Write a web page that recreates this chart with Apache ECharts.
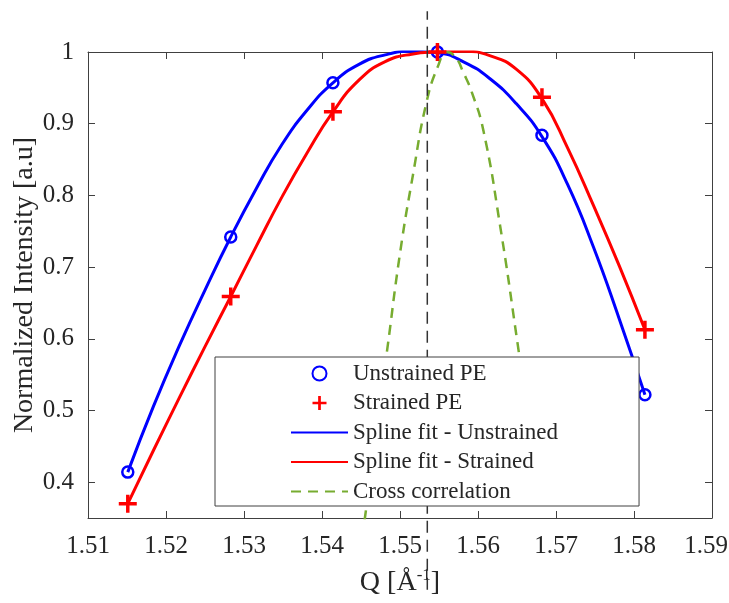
<!DOCTYPE html>
<html><head><meta charset="utf-8">
<script src="https://cdn.jsdelivr.net/npm/echarts@6/dist/echarts.min.js"></script>
<style>html,body{margin:0;padding:0;background:#fff}#c{width:729px;height:603px}</style>
</head><body><div id="c"></div>
<script>
// Measured data points
const qPoints = [1.5151, 1.5283, 1.5414, 1.5548, 1.5682, 1.5814];
const unstrainedPE = [0.414, 0.742, 0.957, 1.000, 0.884, 0.522];
const strainedPE = [0.370, 0.659, 0.9165, 1.000, 0.937, 0.6125];
// Spline fit curves
const splineQ = [1.5151, 1.5184, 1.5217, 1.5250, 1.5283, 1.5316, 1.5348, 1.5381, 1.5414, 1.5448, 1.5481, 1.5515, 1.5548, 1.5582, 1.5615, 1.5649, 1.5682, 1.5715, 1.5748, 1.5781, 1.5814];
const splineUI = [0.414, 0.506, 0.590, 0.668, 0.742, 0.810, 0.870, 0.919, 0.957, 0.983, 0.996, 1.001, 0.999, 0.986, 0.963, 0.928, 0.882, 0.815, 0.728, 0.628, 0.522];
const splineSI = [0.370, 0.4445, 0.5175, 0.589, 0.659, 0.7295, 0.7965, 0.8595, 0.9165, 0.9615, 0.9865, 0.997, 1.000, 1.001, 0.995, 0.976, 0.935, 0.866, 0.786, 0.702, 0.6125];
// Cross correlation curve
const crossQ = [1.5448, 1.5455, 1.5469, 1.5483, 1.5500, 1.5517, 1.5534, 1.5549, 1.5560, 1.5571, 1.5581, 1.5592, 1.5607, 1.5628, 1.5650, 1.5668];
const crossI = [0.30, 0.35, 0.47, 0.58, 0.719, 0.831, 0.930, 0.981, 1.000, 0.993, 0.972, 0.944, 0.890, 0.760, 0.599, 0.46];
// Vertical marker line
const markerQ = 1.5535;
const markerRange = [0.25, 1.057];
// Axis ticks
const xTicks = [1.51, 1.52, 1.53, 1.54, 1.55, 1.56, 1.57, 1.58, 1.59];
const yTicks = [0.4, 0.5, 0.6, 0.7, 0.8, 0.9, 1.0];

const FONT = 'Liberation Serif';
const TXT = '#262626';
const AX = '#404040';
const plusPath = 'path://M6.45,0H9.55V6.45H16V9.55H9.55V16H6.45V9.55H0V6.45H6.45Z';
const zip = (a, b) => a.map((v, i) => [v, b[i]]);
const xMax = xTicks[xTicks.length - 1];

const chart = echarts.init(document.getElementById('c'), null, {renderer: 'canvas'});
const baseX = {
  type: 'value', min: xTicks[0], max: xMax, interval: 0.01,
  axisLine: {show: true, lineStyle: {color: AX, width: 1}},
  axisTick: {show: true, inside: true, length: 7, lineStyle: {color: AX}},
  splitLine: {show: false}
};
const baseY = {
  type: 'value', min: 0.35, max: 1,
  axisLine: {show: true, lineStyle: {color: AX, width: 1}},
  axisTick: {show: true, inside: true, length: 7, customValues: yTicks, lineStyle: {color: AX}},
  splitLine: {show: false}
};
chart.setOption({
  animation: false,
  backgroundColor: '#fff',
  grid: {left: 88, right: 17, top: 52, bottom: 85, containLabel: false, outerBoundsMode: 'none'},
  xAxis: [
    Object.assign({}, baseX, {
      position: 'bottom',
      axisLabel: {show: true, margin: 16, fontFamily: FONT, fontSize: 25, color: TXT,
        formatter: v => {
          const s = (Math.round(v * 100) / 100).toFixed(2);
          return Math.abs(v - xMax) < 1e-9 ? '{r|' + s + '}' : s;
        },
        rich: {r: {fontFamily: FONT, fontSize: 25, color: TXT, padding: [0, 12, 0, 0]}}},
      name: 'Q [Å{sup|-1}]', nameLocation: 'middle', nameGap: 49, nameMoveOverlap: false,
      nameTextStyle: {fontFamily: FONT, fontSize: 28, color: TXT,
        rich: {sup: {fontFamily: FONT, fontSize: 17, color: TXT, verticalAlign: 'top', padding: [0, 0, 14, 0]}}}
    }),
    Object.assign({}, baseX, {position: 'top', axisLabel: {show: false}})
  ],
  yAxis: [
    Object.assign({}, baseY, {
      position: 'left',
      axisLabel: {show: true, margin: 14, fontFamily: FONT, fontSize: 25, color: TXT, customValues: yTicks,
        formatter: v => Math.abs(v - 1) < 1e-9 ? '1' : (Math.round(v * 10) / 10).toFixed(1)},
      name: 'Normalized Intensity [a.u]', nameLocation: 'middle', nameGap: 49, nameMoveOverlap: false,
      nameTextStyle: {fontFamily: FONT, fontSize: 28, color: TXT}
    }),
    Object.assign({}, baseY, {position: 'right', axisLabel: {show: false}})
  ],
  legend: {
    orient: 'vertical', left: 215, top: 357, z: 10,
    itemWidth: 57, itemHeight: 14, itemGap: 6.5,
    padding: [5, 81, 3, 75],
    backgroundColor: '#fff', borderColor: AX, borderWidth: 1,
    textStyle: {fontFamily: FONT, fontSize: 23, color: TXT},
    symbolKeepAspect: true,
    data: ['Unstrained PE', 'Strained PE', 'Spline fit - Unstrained', 'Spline fit - Strained', 'Cross correlation']
  },
  series: [
    {name: 'Spline fit - Unstrained', type: 'line', data: zip(splineQ, splineUI), smooth: 0.5,
      showSymbol: false, symbol: 'none', lineStyle: {color: '#0000ff', width: 3}, itemStyle: {color: 'transparent', borderWidth: 0}, z: 3},
    {name: 'Spline fit - Strained', type: 'line', data: zip(splineQ, splineSI), smooth: 0.5,
      showSymbol: false, symbol: 'none', lineStyle: {color: '#ff0000', width: 3}, itemStyle: {color: 'transparent', borderWidth: 0}, z: 3},
    {name: 'Cross correlation', type: 'line', data: zip(crossQ, crossI), smooth: 0.5,
      showSymbol: false, symbol: 'none', lineStyle: {color: '#77ac30', width: 2.5, type: [10, 7]}, itemStyle: {color: 'transparent', borderWidth: 0}, z: 3},
    {name: 'Unstrained PE', type: 'scatter', data: zip(qPoints, unstrainedPE), symbol: 'circle', symbolSize: 11,
      itemStyle: {color: 'none', borderColor: '#0000ff', borderWidth: 2.5, opacity: 1}, z: 4},
    {name: 'Strained PE', type: 'scatter', data: zip(qPoints, strainedPE), symbol: plusPath, symbolSize: 18,
      symbolKeepAspect: true, itemStyle: {color: '#ff0000', opacity: 1}, z: 4},
    {name: 'marker', type: 'line', data: [[markerQ, markerRange[0]], [markerQ, markerRange[1]]], clip: false,
      showSymbol: false, symbol: 'none', lineStyle: {color: '#333', width: 1.5, type: [12, 7]}, z: 3, silent: true}
  ]
});
</script></body></html>
